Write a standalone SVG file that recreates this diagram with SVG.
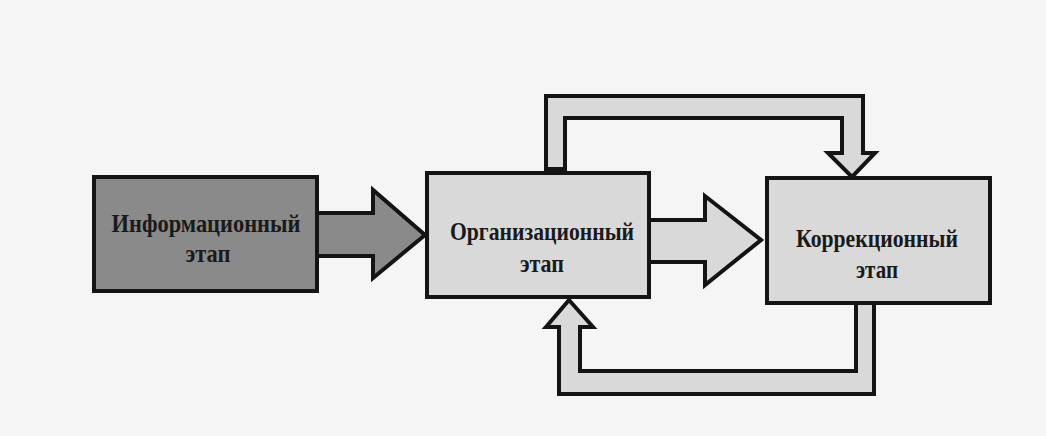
<svg xmlns="http://www.w3.org/2000/svg" width="1046" height="436" viewBox="0 0 1046 436">
<style>
.bg{fill:#f5f5f5}
.node{stroke:#141414;stroke-width:4;stroke-linejoin:miter}
.dark{fill:#8a8a8a}
.light{fill:#d9d9d9}
.conn{stroke:#141414;stroke-width:4;stroke-linejoin:miter}
.lbl{font-family:"Liberation Serif","Times New Roman",serif;font-weight:bold;font-size:25px;fill:#1a1a1a;text-anchor:middle}
</style>
<rect class="bg" x="0" y="0" width="1046" height="436"/>
<g id="connectors">
<path id="arrow-info-org" class="conn dark" d="M317,213 L373,213 L373,190 L425,235 L373,278 L373,256 L317,256 Z"/>
<path id="arrow-org-corr" class="conn light" d="M649,220 L705,220 L705,196 L761,240 L705,285 L705,262 L649,262 Z"/>
<path id="arrow-top" class="conn light" d="M546,169 L546,96 L863,96 L863,153 L875,153 L852,177 L828,153 L842,153 L842,118 L565,118 L565,169 Z"/>
<path id="arrow-bottom" class="conn light" d="M569,300 L593,327 L580,327 L580,371 L856,371 L856,302 L874,302 L874,394 L559,394 L559,327 L546,327 Z"/>
</g>
<g id="node-info">
<rect class="node dark" x="94" y="177" width="223" height="114"/>
<text class="lbl" x="206" y="232" textLength="189" lengthAdjust="spacingAndGlyphs">Информационный</text>
<text class="lbl" x="208" y="262" textLength="45" lengthAdjust="spacingAndGlyphs">этап</text>
</g>
<g id="node-org">
<rect class="node light" x="427" y="173" width="222" height="124"/>
<text class="lbl" x="542" y="240" textLength="184" lengthAdjust="spacingAndGlyphs">Организационный</text>
<text class="lbl" x="542" y="272" textLength="44" lengthAdjust="spacingAndGlyphs">этап</text>
</g>
<g id="node-corr">
<rect class="node light" x="767" y="178" width="223" height="125"/>
<text class="lbl" x="877" y="247" textLength="162" lengthAdjust="spacingAndGlyphs">Коррекционный</text>
<text class="lbl" x="877" y="278" textLength="42" lengthAdjust="spacingAndGlyphs">этап</text>
</g>
</svg>
